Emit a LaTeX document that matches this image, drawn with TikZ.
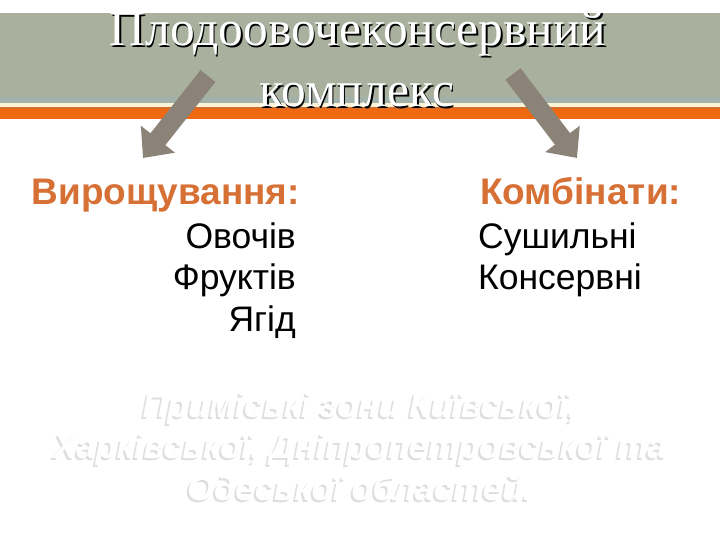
\documentclass[tikz,border=0pt]{standalone}
\usepackage{fontspec}
\setmainfont{Liberation Serif}
\setsansfont{Liberation Sans}
\usepackage{tikz}
\usetikzlibrary{arrows.meta}
\definecolor{bandgray}{RGB}{169,176,158}
\definecolor{bandblue}{RGB}{162,178,170}
\definecolor{bandcream}{RGB}{252,242,214}
\definecolor{bandorange}{RGB}{240,104,18}
\definecolor{bandrust}{RGB}{212,108,44}
\definecolor{arrowgray}{RGB}{139,131,120}
\definecolor{headorange}{RGB}{214,112,52}
\definecolor{embossgray}{RGB}{222,222,222}

\begin{document}
\begin{tikzpicture}[x=1pt, y=-1pt,
	titletext/.style={font=\fontsize{49.5}{49.5}\selectfont, inner sep=0, anchor=base},
	headtext/.style={font=\sffamily\bfseries\fontsize{37}{37}\selectfont, inner sep=0, text=headorange},
	listtext/.style={font=\sffamily\fontsize{35.5}{41.5}\selectfont, inner sep=0},
	zonetext/.style={font=\sffamily\bfseries\itshape\fontsize{34.3}{41.5}\selectfont, inner sep=0, align=center, anchor=base},
	bigarrow/.style={line width=19pt, arrowgray, -{Triangle[width=42pt, length=24pt]}}
]
\useasboundingbox (0,0) rectangle (720,540);

% band across the top
\fill[bandgray] (0,13) rectangle (720,97);
\fill[bandblue] (0,97) rectangle (720,103);
\fill[bandcream] (0,103) rectangle (720,107);
\fill[bandorange] (0,107) rectangle (720,119);
\fill[bandrust] (0,107) rectangle (720,109);

\node[titletext, black] (title1s) at (359.5,47.5) {Плодоовочеконсервний};
\node[titletext, white] (title1) at (358,46) {Плодоовочеконсервний};
\node[titletext, black] (title2s) at (358.5,108.5) {комплекс};
\node[titletext, white] (title2) at (357,107) {комплекс};

\coordinate (la) at (208,76);
\coordinate (lb) at (143,158);
\coordinate (ra) at (513,74);
\coordinate (rb) at (577,158);
\draw[bigarrow] (la) -- (lb);
\draw[bigarrow] (ra) -- (rb);

\node[headtext, anchor=base east] (grow) at (300,205) {Вирощування:};
\node[listtext, anchor=base east, align=right] (crops) at (296,331) {Овочів\\Фруктів\\Ягід};

\node[headtext, anchor=base west] (plants) at (480,205) {Комбінати:};
\node[listtext, anchor=base west, align=left] (kinds) at (478,289.5) {Сушильні\\Консервні};

\node[zonetext, text=embossgray] (zones s) at (358,502) {Приміські зони Київської,\\Харківської, Дніпропетровської та\\Одеської областей.};
\node[zonetext, text=white] (zones) at (360,500) {Приміські зони Київської,\\Харківської, Дніпропетровської та\\Одеської областей.};
\end{tikzpicture}
\end{document}
